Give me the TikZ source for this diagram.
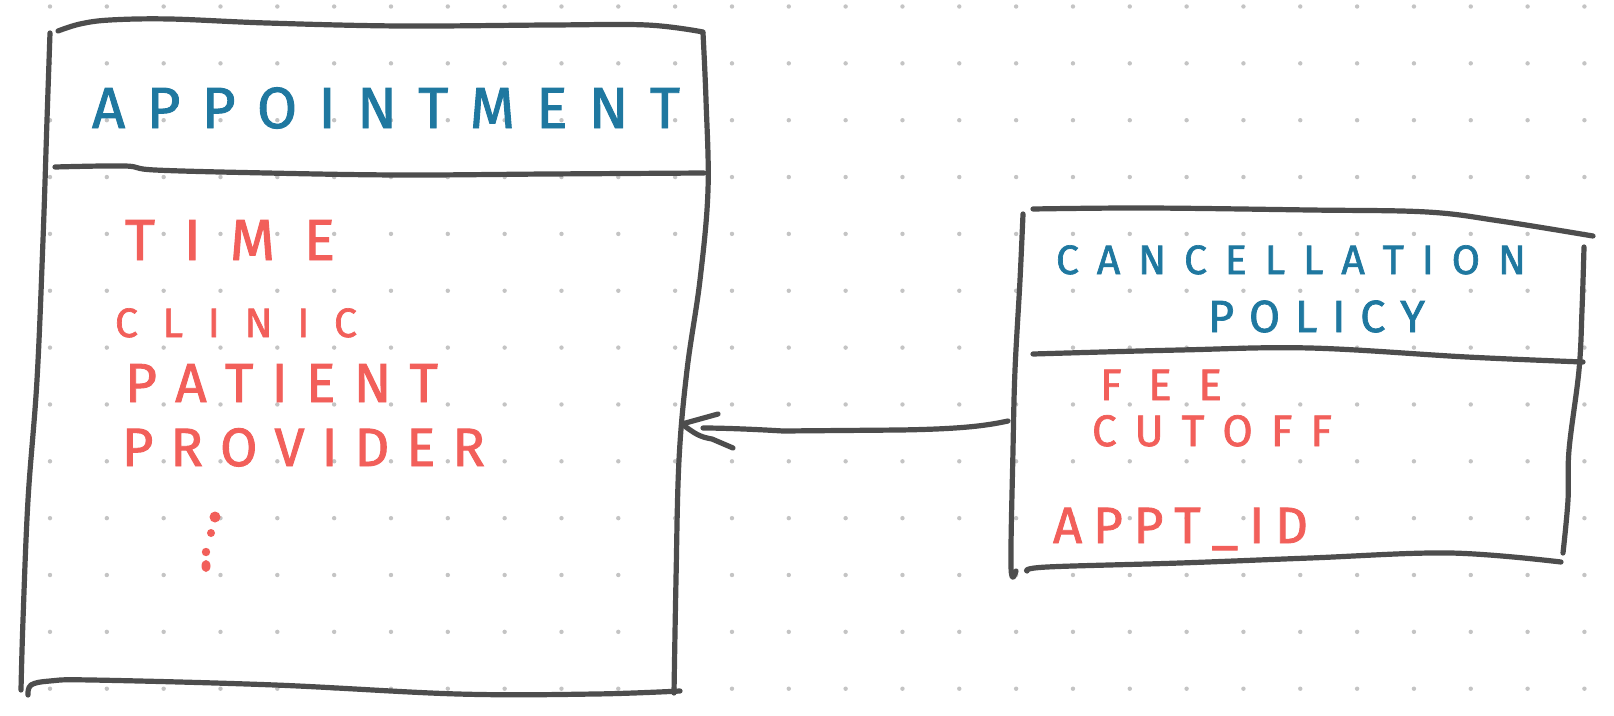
\documentclass[tikz,border=0pt]{standalone}
\usepackage{fontspec}
\setmainfont{Fira Sans}
\newfontfamily\handfont[FakeBold=1.6]{Fira Sans}
\makeatletter
\newcommand\spreadtxt[2]{\makebox[#1][s]{\let\st@sep\relax\@tfor\st@c:=#2\do{\st@sep\st@c\let\st@sep\hfill}}}
\makeatother
\definecolor{inkgray}{HTML}{4D4D4D}
\definecolor{inkblue}{HTML}{1F78A0}
\definecolor{inkred}{HTML}{F25F5A}
\definecolor{griddot}{HTML}{C4C4C4}
\tikzset{
  pen/.style={draw=inkgray, line width=5.2pt, line cap=round, line join=round},
  lbl/.style={inner sep=0pt, outer sep=0pt, anchor=base west, font=\handfont},
  blue/.style={lbl, text=inkblue},
  red/.style={lbl, text=inkred},
}
\newcommand\fs[1]{\fontsize{#1}{#1}\selectfont}
\begin{document}
\begin{tikzpicture}[x=1pt, y=-1pt]
\useasboundingbox (0,0) rectangle (1614,715);
\fill[white] (0,0) rectangle (1614,715);
% dot grid
\foreach \i in {0,...,27} {
  \foreach \j in {0,...,12} {
    \fill[griddot] ({50+56.83*\i},{6.5+56.85*\j}) circle (2.2);
  }
}
% Appointment box
\draw[pen] plot[smooth, tension=0.6] coordinates {(58,31) (80,24) (110,20) (170,19) (267,23) (400,26) (550,25) (647,25) (703,32)};
\draw[pen] plot[smooth, tension=0.6] coordinates {(50,33) (47,120) (43,240) (37,380) (28,500) (23,620) (21,690)};
\draw[pen] plot[smooth, tension=0.6] coordinates {(703,33) (706,100) (708,190) (700,280) (687,370) (679,460) (676,580) (674,693)};
\draw[pen] plot[smooth, tension=0.6] coordinates {(28,695) (31,685) (50,681) (92,680) (275,685) (458,694) (595,694) (680,691)};
\draw[pen] plot[smooth, tension=0.6] coordinates {(55,167) (125,166) (155,170) (267,173) (400,175) (547,174) (704,173)};
\node[blue] (appt) at (92,128) {\fs{58}\spreadtxt{588pt}{APPOINTMENT}};
\node[red] (time) at (125,260) {\fs{58}\spreadtxt{210pt}{TIME}};
\node[red] (clinic) at (115,337) {\fs{41}\spreadtxt{242pt}{CLINIC}};
\node[red] (patient) at (125,402) {\fs{55}\spreadtxt{313pt}{PATIENT}};
\node[red] (provider) at (122,466) {\fs{54}\spreadtxt{363pt}{PROVIDER}};
\fill[inkred] (215,517) circle (5.5);
\fill[inkred] (211,533) circle (4);
\fill[inkred] (206,552) circle (4.2);
\fill[inkred] (206,566) ellipse (4.5 and 6);
% Cancellation policy box
\draw[pen] plot[smooth, tension=0.6] coordinates {(1033,209) (1147,208) (1310,210) (1427,212) (1500,221) (1593,236)};
\draw[pen] plot[smooth, tension=0.6] coordinates {(1023,214) (1020,280) (1015,370) (1013,450) (1011,567) (1016,571)};
\draw[pen] plot[smooth, tension=0.6] coordinates {(1584,247) (1582,310) (1579,370) (1569,450) (1568,500) (1563,553)};
\draw[pen] plot[smooth, tension=0.6] coordinates {(1027,571) (1047,567) (1180,563) (1310,558) (1450,553) (1561,562)};
\draw[pen] plot[smooth, tension=0.6] coordinates {(1033,354) (1180,350) (1310,348) (1467,357) (1583,362)};
\node[blue] (cancel) at (1056,274) {\fs{41}\spreadtxt{470pt}{CANCELLATION}};
\node[blue] (policy) at (1208,332) {\fs{45}\spreadtxt{217pt}{POLICY}};
\node[red] (fee) at (1100,400) {\fs{44}\spreadtxt{122pt}{FEE}};
\node[red] (cutoff) at (1092,446) {\fs{44}\spreadtxt{240pt}{CUTOFF}};
\node[red] (apptid) at (1053,543) {\fs{51}\spreadtxt{255pt}{APPT\_ID}};
% arrow
\coordinate (arrowstart) at (1008,421);
\coordinate (lineend) at (703,428);
\coordinate (tip) at (682,424);
\coordinate (barbup) at (718,414);
\coordinate (barbdown) at (733,448);
\draw[pen] (arrowstart) .. controls (985,426) and (960,429) .. (900,430) -- (783,431) .. controls (750,429) and (720,428) .. (lineend);
\draw[pen] (barbup) -- (tip);
\draw[pen] (tip) .. controls (695,434) and (700,437) .. (712,439) -- (barbdown);
\end{tikzpicture}
\end{document}
